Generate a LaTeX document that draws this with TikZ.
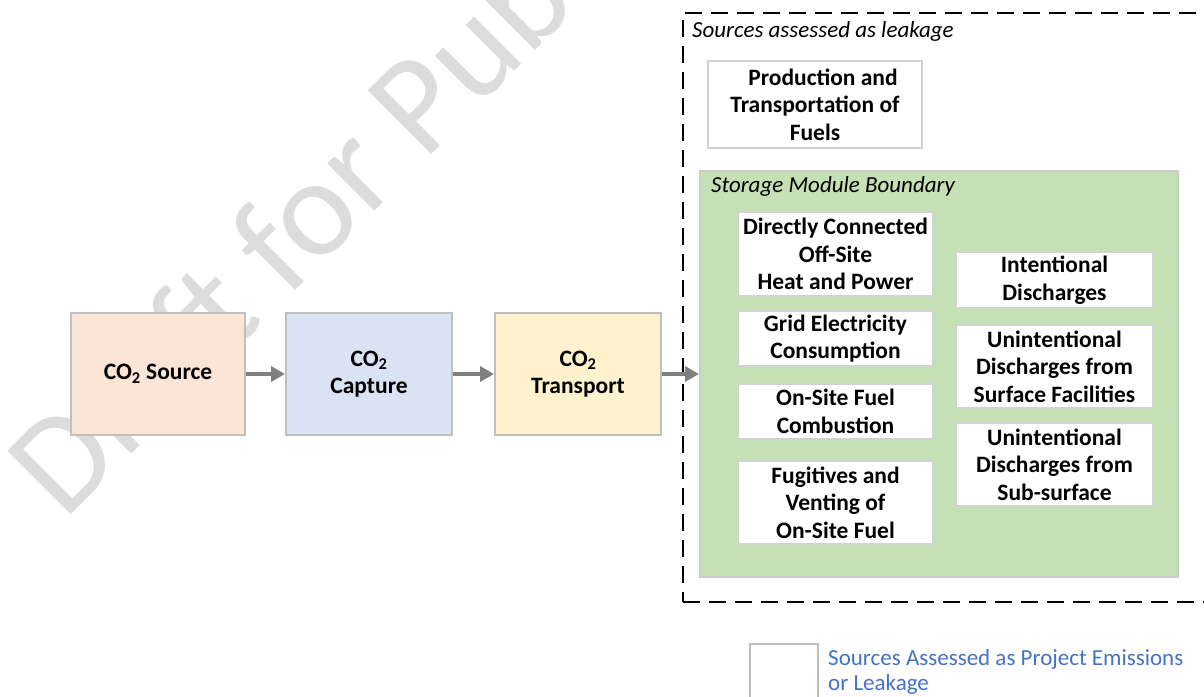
\documentclass[tikz,border=0pt]{standalone}
\usepackage{fontspec}
\setmainfont{Carlito}
\usetikzlibrary{arrows.meta}

\definecolor{srcfill}{HTML}{FBE5D6}
\definecolor{capfill}{HTML}{DAE3F3}
\definecolor{trnfill}{HTML}{FFF2CC}
\definecolor{smbfill}{HTML}{C5E0B4}
\definecolor{boxgray}{HTML}{BFBFBF}
\definecolor{arrgray}{HTML}{7F7F7F}
\definecolor{wmgray}{HTML}{DCDCDC}
\definecolor{legblue}{HTML}{4472C4}

\tikzset{
  stage/.style={draw=boxgray, line width=2pt, minimum width=166pt, minimum height=122pt,
    align=center, font=\bfseries\fontsize{23.5}{27.5}\selectfont},
  emis/.style={draw=boxgray!70, fill=white, line width=2pt, inner sep=1pt,
    align=center, font=\bfseries\fontsize{23.5}{27.5}\selectfont},
  flow/.style={draw=arrgray, line width=3.5pt, -{Triangle[length=14pt,width=15pt]}},
  note/.style={anchor=west, inner sep=0pt, font=\itshape\fontsize{23}{25}\selectfont}
}

\begin{document}
\begin{tikzpicture}[x=1pt,y=-1pt]
			\useasboundingbox (0,0) rectangle (1204,696);
			% watermark
			\node[wmgray, rotate=45, anchor=base west, inner sep=0pt,
			  font=\fontsize{140}{140}\selectfont] (wmark) at (64,522) {Draft for Public Comment};

			\node[stage, fill=srcfill, minimum width=174pt] (src) at (158,374) {CO\textsubscript{2} Source};
			\node[stage, fill=capfill] (cap) at (369,374) {CO\textsubscript{2}\\Capture};
			\node[stage, fill=trnfill] (trn) at (578,374) {CO\textsubscript{2}\\Transport};

			% leakage boundary (runs off the right edge)
			\node[draw, line width=2.5pt, dash pattern=on 17pt off 9pt, minimum width=560pt,
			  minimum height=589pt] (leak) at (963,307.5) {};
			\node[note] (leaklbl) at (692,31) {Sources assessed as leakage};
			\node[emis, minimum width=214pt, minimum height=87pt] (ptf) at (815,104.5)
			  {\hspace{16pt}Production and\\Transportation of\\Fuels};

			\node[draw=boxgray!80, fill=smbfill, line width=2pt, minimum width=478pt,
			  minimum height=406pt] (smb) at (939,374) {};
			\node[note] (smblbl) at (711,186) {Storage Module Boundary};

			\node[emis, minimum width=195pt, minimum height=84pt] (dch) at (835.5,254)
			  {Directly Connected\\Off-Site\\Heat and Power};
			\node[emis, minimum width=195pt, minimum height=55pt] (gec) at (835.5,338.5)
			  {Grid Electricity\\Consumption};
			\node[emis, minimum width=195pt, minimum height=55pt] (osf) at (835.5,411.5)
			  {On-Site Fuel\\Combustion};
			\node[emis, minimum width=195pt, minimum height=83pt] (fug) at (835.5,502.5)
			  {Fugitives and\\Venting of\\On-Site Fuel};
			\node[emis, minimum width=197pt, minimum height=56pt] (itd) at (1054.5,280)
			  {Intentional\\Discharges};
			\node[emis, minimum width=197pt, minimum height=83pt] (uds) at (1054.5,366.5)
			  {Unintentional\\Discharges from\\Surface Facilities};
			\node[emis, minimum width=197pt, minimum height=83pt] (udb) at (1054.5,464.5)
			  {Unintentional\\Discharges from\\Sub-surface};

			\foreach \u/\v in {src/cap, cap/trn, trn/smb}
			{	\draw[flow] (\u) -- (\v);
			}

			% legend
			\node[draw=boxgray, line width=2pt, minimum width=68pt, minimum height=70pt] (legbox) at (784,679) {};
			\node[legblue, anchor=north west, align=left, inner sep=0pt,
			  font=\fontsize{23}{25}\selectfont] (legtxt) at (828,649)
			  {Sources Assessed as Project Emissions\\or Leakage};
		\end{tikzpicture}
\end{document}
